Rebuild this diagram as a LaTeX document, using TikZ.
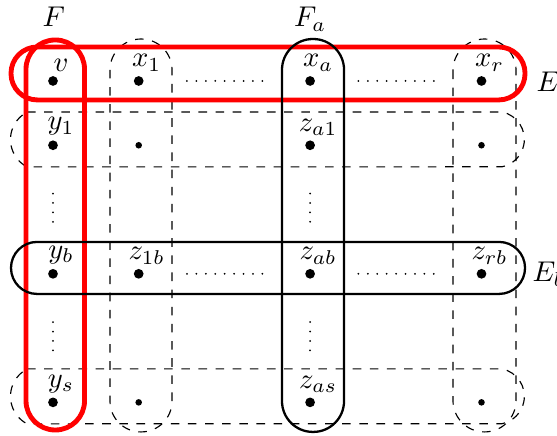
\documentclass[tikz,border=0pt]{standalone}
\usetikzlibrary{positioning}
\begin{document}
\begin{tikzpicture}[x=30pt, y=22.5pt,
    dot/.style={circle, fill=black, inner sep=0pt, minimum size=3.4pt},
    sdot/.style={circle, fill=black, inner sep=0pt, minimum size=2.3pt},
    lbl/.style={inner sep=1.3pt, xshift=2.8pt},
    redge/.style={draw=red, line width=1.7pt},
    bedge/.style={draw=black, thick},
    dedge/.style={draw=black, dashed},
    filler/.style={line width=0.7pt, line cap=round, dash pattern=on 0pt off 3.3pt, shorten <=15pt, shorten >=14pt},
  ]
  \useasboundingbox (-0.6184,1.2597) rectangle (5.881,-5.521);

  % dashed hyperedges
  \draw[dedge, rounded corners=10.8pt] (0.665,0.653) rectangle (1.389,-5.46);
  \draw[dedge, rounded corners=11pt] (4.667,0.653) rectangle (5.403,-5.46);
  \draw[dedge] (-0.303,-0.482) -- (5.239,-0.482) arc[start angle=78.4, end angle=-78.4, radius=9.8pt]
    -- (-0.303,-1.337) arc[start angle=242.2, end angle=117.8, radius=10.85pt] -- cycle;
  \draw[dedge] (-0.303,-4.479) -- (5.239,-4.479) arc[start angle=78.4, end angle=-78.4, radius=9.8pt]
    -- (-0.303,-5.334) arc[start angle=242.2, end angle=117.8, radius=10.85pt] -- cycle;

  % red hyperedges
  \draw[redge, rounded corners=10.2pt] (-0.315,0.638) rectangle (0.368,-5.43);
  \draw[redge, rounded corners=9.2pt] (-0.490,0.529) rectangle (5.508,-0.295);

  % solid hyperedges
  \draw[bedge, rounded corners=10.8pt] (2.672,0.653) rectangle (3.396,-5.46);
  \draw[bedge, rounded corners=9.1pt] (-0.490,-2.504) rectangle (5.508,-3.313);

  % vertices
  \node[dot, label={[lbl]above:$v$}] (v) at (0,0) {};
  \node[dot, label={[lbl]above:$x_1$}] (x1) at (1,0) {};
  \node[dot, label={[lbl]above:$x_a$}] (xa) at (3,0) {};
  \node[dot, label={[lbl]above:$x_r$}] (xr) at (5,0) {};

  \node[dot, label={[lbl]above:$y_1$}] (y1) at (0,-1) {};
  \node[sdot] (n11) at (1,-1) {};
  \node[dot, label={[lbl]above:$z_{a1}$}] (za1) at (3,-1) {};
  \node[sdot] (nr1) at (5,-1) {};

  \node[dot, label={[lbl]above:$y_b$}] (yb) at (0,-3) {};
  \node[dot, label={[lbl]above:$z_{1b}$}] (z1b) at (1,-3) {};
  \node[dot, label={[lbl]above:$z_{ab}$}] (zab) at (3,-3) {};
  \node[dot, label={[lbl]above:$z_{rb}$}] (zrb) at (5,-3) {};

  \node[dot, label={[lbl]above:$y_s$}] (ys) at (0,-5) {};
  \node[sdot] (n1s) at (1,-5) {};
  \node[dot, label={[lbl]above:$z_{as}$}] (zas) at (3,-5) {};
  \node[sdot] (nrs) at (5,-5) {};

  % ellipses
  \draw[filler] (x1) -- (xa);
  \draw[filler] (xa) -- (xr);
  \draw[filler] (z1b) -- (zab);
  \draw[filler] (zab) -- (zrb);
  \draw[filler] (y1) -- (yb);
  \draw[filler] (yb) -- (ys);
  \draw[filler] (za1) -- (zab);
  \draw[filler] (zab) -- (zas);

  % edge names
  \node[anchor=base] (lF) at (0.01,0.84) {$F$};
  \node[anchor=base] (lFa) at (3.0,0.84) {$F_a$};
  \node[anchor=base west, inner sep=0pt] (lE) at (5.635,-0.171) {$E$};
  \node[anchor=base west, inner sep=0pt] (lEb) at (5.589,-3.126) {$E_b$};
\end{tikzpicture}
\end{document}
